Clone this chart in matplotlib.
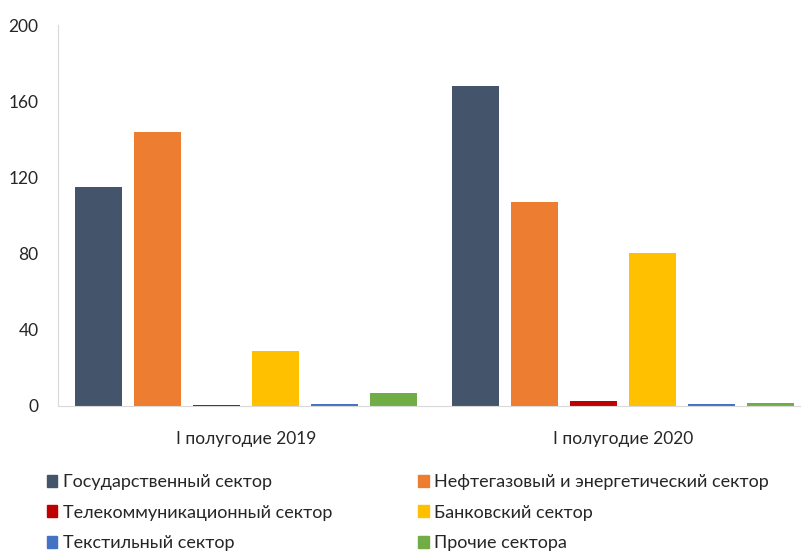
import numpy as np
import matplotlib.pyplot as plt
from matplotlib.patches import Patch

plt.rcParams['font.family'] = ['Lato', 'DejaVu Sans']

periods = ['I полугодие 2019', 'I полугодие 2020']
sectors = ['Государственный сектор', 'Нефтегазовый и энергетический сектор',
           'Телекоммуникационный сектор', 'Банковский сектор',
           'Текстильный сектор', 'Прочие сектора']
gov = [115, 168]
oil = [144, 107]
telecom = [0.5, 2.6]
bank = [29, 80.5]
textile = [1, 1]
other = [7, 1.5]
colors = ['#44546A', '#ED7D31', '#C00000', '#FFC000', '#4472C4', '#70AD47']

series = [gov, oil, telecom, bank, textile, other]

fig = plt.figure(figsize=(8.02, 5.52), dpi=100)
ax = fig.add_axes([0.0723, 0.2645, 0.9252, 0.6902])

x = np.arange(len(periods))
step = 0.1565
width = 0.125
for i, vals in enumerate(series):
    ax.bar(x + (i - 2.5) * step, vals, width, color=colors[i], label=sectors[i])

ax.set_ylim(0, 200)
ax.set_xlim(-0.4987, 1.47)
ax.set_yticks([0, 40, 80, 120, 160, 200])
ax.set_xticks(x)
ax.set_xticklabels(periods)
ax.tick_params(axis='both', length=0, labelsize=12.5, colors='#262626')
ax.tick_params(axis='y', pad=14)
ax.tick_params(axis='x', pad=18)
for s in ['top', 'right']:
    ax.spines[s].set_visible(False)
ax.spines['left'].set_color('#D9D9D9')
ax.spines['bottom'].set_color('#D9D9D9')

# two legend columns placed separately
for col, xpos in [([0, 2, 4], 0.058), ([1, 3, 5], 0.521)]:
    handles = [Patch(color=colors[i]) for i in col]
    labels = [sectors[i] for i in col]
    leg = fig.legend(handles, labels, loc='upper left', bbox_to_anchor=(xpos, 0.141),
                     frameon=False, fontsize=13, handlelength=0.6, handleheight=0.65,
                     handletextpad=0.3, labelspacing=0.8,
                     borderaxespad=0, borderpad=0, labelcolor='#262626')

fig.savefig('out.png', dpi=100)
